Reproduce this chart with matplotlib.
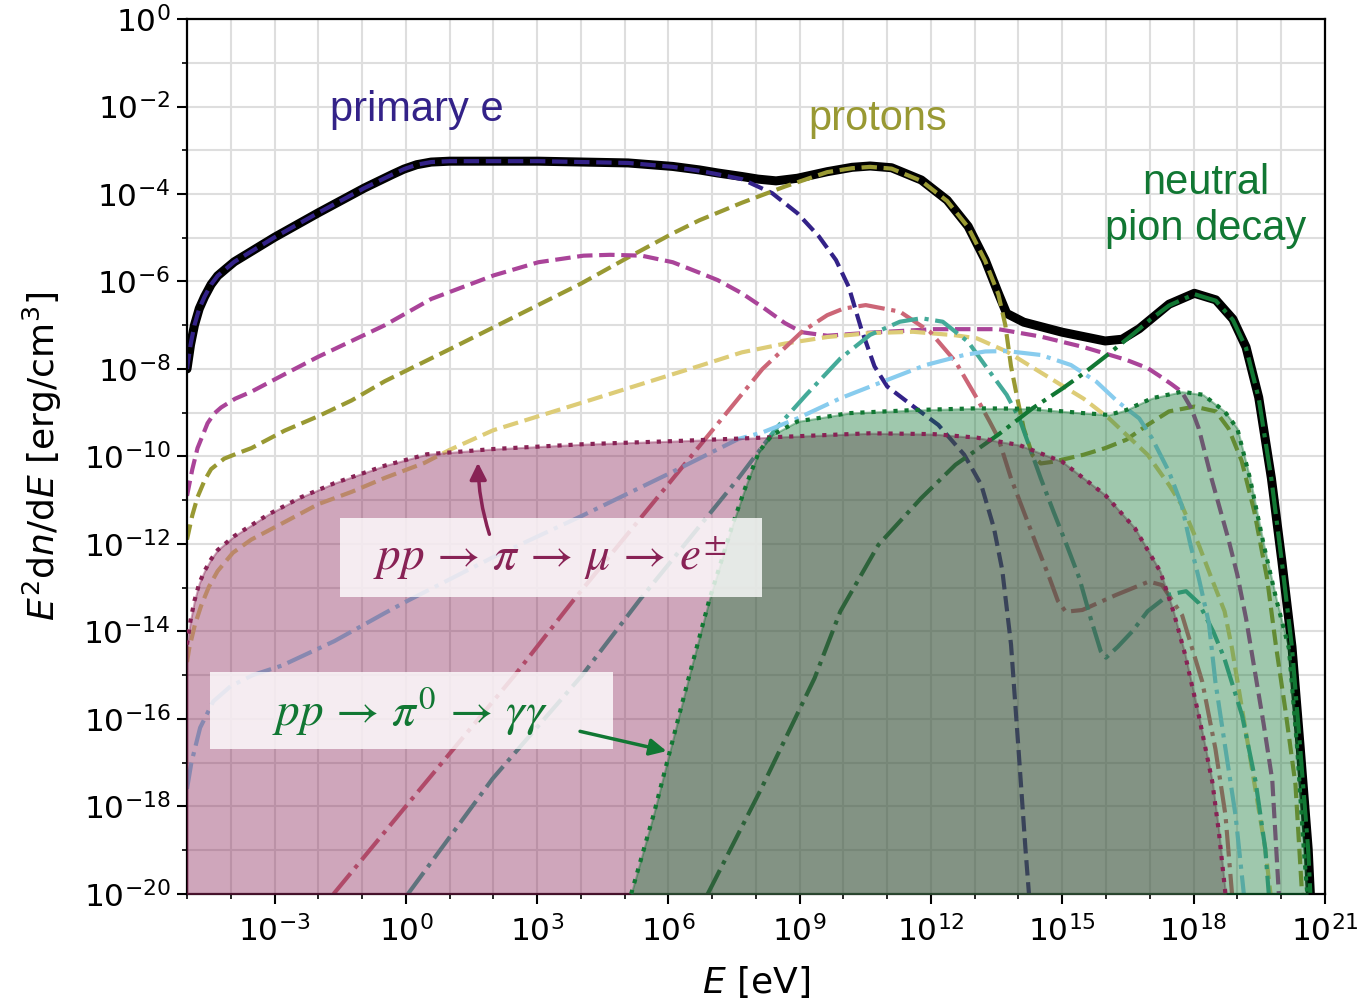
import numpy as np
import matplotlib
matplotlib.use("Agg")
import matplotlib.pyplot as plt
from matplotlib.patches import FancyArrowPatch, Rectangle

# Paul Tol "muted" palette
C_PRIM = "#332288"
C_PROT = "#999933"
C_MAG = "#AA4499"
C_SAND = "#DDCC77"
C_ROSE = "#CC6677"
C_TEAL = "#44AA99"
C_CYAN = "#88CCEE"
C_PI0 = "#117733"
C_WINE = "#882255"

# ---- spectra: log10(E / eV) and log10(E^2 dn/dE / erg cm^-3) ----
logE_total = [-5, -4.92, -4.83, -4.72, -4.6, -4.45, -4.3, -4.1, -3.92, -3.0, -2.0, -0.94, -0.3,
              -0.04, 0.25, 0.58, 1.0, 3.03, 5.08, 6.1, 6.71, 7.13, 7.68, 8.05, 8.46, 8.95, 9.63,
              10.2, 10.61, 11.1, 11.78, 12.37, 12.85, 13.24, 13.54, 13.73, 14.12, 15.0, 15.98,
              16.37, 16.76, 17.44, 18.02, 18.51, 18.9, 19.2, 19.49, 19.78, 20.02, 20.25, 20.44,
              20.62, 20.67]
logU_total = [-8.0, -7.45, -7.0, -6.62, -6.35, -6.07, -5.87, -5.7, -5.55, -4.99, -4.43, -3.86,
              -3.55, -3.43, -3.33, -3.27, -3.25, -3.25, -3.29, -3.37, -3.45, -3.52, -3.6, -3.66,
              -3.7, -3.64, -3.49, -3.39, -3.36, -3.4, -3.68, -4.14, -4.74, -5.51, -6.27, -6.73,
              -6.93, -7.16, -7.36, -7.32, -7.08, -6.52, -6.27, -6.42, -6.86, -7.5, -8.65, -10.5,
              -12.4, -14.35, -16.68, -18.97, -20]

logE_prim = [-5, -4.92, -4.83, -4.72, -4.6, -4.45, -4.3, -4.1, -3.92, -3.0, -2.0, -0.94, -0.3,
             -0.04, 0.25, 0.58, 1.0, 3.03, 5.08, 6.1, 6.71, 7.13, 7.68, 8.37, 8.95, 9.44, 9.83,
             10.12, 10.41, 10.71, 11.0, 11.59, 12.17, 12.76, 13.15, 13.44, 13.63, 13.83, 14.0,
             14.16, 14.24]
logU_prim = [-8.0, -7.45, -7.0, -6.62, -6.35, -6.07, -5.87, -5.7, -5.55, -4.99, -4.43, -3.86,
             -3.55, -3.43, -3.33, -3.27, -3.25, -3.25, -3.29, -3.38, -3.47, -3.55, -3.66, -3.98,
             -4.44, -4.97, -5.51, -6.12, -7.09, -7.94, -8.4, -8.85, -9.28, -9.96, -10.65,
             -11.64, -12.6, -14.3, -16.68, -18.97, -20]

logE_prot = [-5, -4.88, -4.76, -4.6, -4.45, -4.15, -3.85, -3.53, -2.77, -2.0, -1.24, -0.48,
             1.0, 2.5, 4.0, 5.08, 6.1, 6.71, 7.68, 8.66, 9.63, 10.2, 10.61, 11.1, 11.78, 12.37,
             12.85, 13.24, 13.54, 13.7, 13.83, 13.98, 14.12, 14.32, 14.51, 14.8, 15.49, 15.98,
             16.46, 16.95, 17.44, 18.02, 18.51, 18.8, 19.1, 19.39, 19.68, 19.88, 20.1, 20.33,
             20.48]
logU_prot = [-11.9, -11.35, -10.93, -10.55, -10.29, -10.05, -9.93, -9.81, -9.41, -9.08, -8.72,
             -8.28, -7.55, -6.8, -6.05, -5.45, -4.9, -4.6, -4.2, -3.83, -3.5, -3.41, -3.38,
             -3.42, -3.7, -4.16, -4.76, -5.53, -6.29, -7.0, -7.94, -8.7, -9.36, -9.97, -10.16,
             -10.12, -9.96, -9.81, -9.62, -9.28, -8.97, -8.86, -8.97, -9.36, -10.1, -11.26,
             -12.78, -14.3, -15.8, -17.5, -20]

logE_mag = [-5, -4.88, -4.76, -4.53, -4.38, -4.22, -3.9, -3.53, -2.77, -2.0, -1.24, -0.48, 0.58,
            2.01, 3.03, 4.06, 4.67, 5.39, 6.1, 6.71, 7.13, 7.68, 8.2, 8.66, 9.05, 9.63, 10.61,
            12.07, 13.54, 14.51, 15.49, 16.46, 16.95, 17.24, 17.5, 17.73, 17.95, 18.12, 18.41,
            18.8, 19.0, 19.2, 19.4, 19.6, 19.8, 19.95]
logU_mag = [-10.9, -10.3, -9.81, -9.24, -9.02, -8.88, -8.68, -8.52, -8.12, -7.72, -7.36, -7.0,
            -6.4, -5.86, -5.56, -5.41, -5.39, -5.41, -5.56, -5.8, -5.97, -6.27, -6.62, -6.95,
            -7.16, -7.24, -7.17, -7.09, -7.09, -7.26, -7.5, -7.79, -7.98, -8.17, -8.35, -8.52,
            -8.9, -9.36, -10.5, -11.9, -12.7, -13.7, -14.9, -16.1, -17.4, -20]

logE_sand = [-5, -4.95, -4.82, -4.68, -4.5, -4.3, -3.95, -3.53, -2.77, -2.0, -1.24, -0.48, 0.42,
             1.0, 2.0, 4.06, 6.1, 6.71, 7.68, 8.66, 9.63, 10.61, 11.59, 12.56, 13.05, 13.73,
             14.51, 15.49, 16.07, 16.95, 17.44, 17.73, 18.12, 18.41, 18.71, 18.88, 19.26, 19.64,
             19.76]
logU_sand = [-14.7, -14.39, -13.85, -13.42, -12.98, -12.62, -12.2, -11.9, -11.5, -11.09, -10.81,
             -10.49, -10.15, -9.85, -9.4, -8.76, -8.12, -7.93, -7.62, -7.42, -7.27, -7.18,
             -7.15, -7.23, -7.3, -7.6, -8.08, -8.68, -9.13, -9.96, -10.65, -11.11, -12.02,
             -12.78, -13.54, -14.39, -16.68, -18.97, -20]

logE_rose = [-1.65, 0.14, 2.49, 3.82, 6.1, 8.15, 9.05, 9.63, 10.0, 10.51, 11.29, 11.98, 12.56,
             13.05, 13.34, 13.54, 13.83, 14.12, 14.41, 14.71, 14.9, 15.08, 15.46, 16.22, 16.98,
             17.28, 17.74, 18.2, 18.5, 18.73, 18.88]
logU_rose = [-20, -17.83, -15.0, -13.3, -10.51, -8.0, -7.15, -6.77, -6.62, -6.54, -6.69, -7.15,
             -7.83, -8.67, -9.2, -9.58, -10.5, -11.26, -12.02, -12.78, -13.3, -13.55, -13.51,
             -13.17, -12.86, -12.94, -13.63, -15.15, -16.68, -18.2, -20]

logE_teal = [0.05, 1.98, 4.03, 5.36, 7.6, 8.46, 9.15, 9.93, 10.61, 11.29, 11.78, 12.27, 12.85,
             13.34, 13.73, 14.02, 14.51, 14.8, 15.1, 15.39, 15.65, 15.88, 16.0, 16.27, 16.6,
             16.95, 17.44, 17.83, 18.12, 18.45, 18.7, 19.11, 19.42, 19.64, 19.72]
logU_teal = [-20, -17.37, -15.0, -13.26, -10.5, -9.36, -8.59, -7.76, -7.22, -6.92, -6.84,
             -6.92, -7.38, -8.06, -8.59, -9.13, -10.5, -11.26, -12.02, -12.78, -13.7, -14.45,
             -14.6, -14.35, -14.0, -13.54, -13.16, -13.08, -13.35, -14.0, -14.6, -15.92, -17.44,
             -18.97, -20]

logE_cyan = [-5, -4.9, -4.7, -4.4, -4.0, -3.5, -2.83, -1.63, -0.48, 0.04, 2.0, 4.04, 6.08, 7.6,
             8.15, 8.95, 9.93, 10.9, 11.88, 12.76, 13.24, 13.73, 14.51, 15.2, 15.78, 16.27,
             16.76, 17.05, 17.44, 17.73, 17.93, 18.12, 18.35, 18.5, 18.73, 18.96, 19.15]
logU_cyan = [-17.6, -17.0, -16.2, -15.6, -15.25, -15.0, -14.78, -14.22, -13.58, -13.3, -12.3,
             -11.35, -10.36, -9.6, -9.45, -9.13, -8.67, -8.29, -7.91, -7.68, -7.6, -7.59, -7.68,
             -7.91, -8.29, -8.75, -9.13, -9.58, -10.35, -11.11, -12.02, -12.78, -13.8, -15.15,
             -16.68, -18.2, -20]

logE_pi0 = [6.9, 8.12, 9.34, 9.93, 10.8, 11.78, 12.56, 13.54, 14.32, 15.0, 15.49, 15.98, 16.66,
            17.0, 17.44, 18.02, 18.51, 18.9, 19.2, 19.49, 19.78, 20.02, 20.25, 20.44, 20.62,
            20.67]
logU_pi0 = [-20, -17.6, -15.07, -13.54, -12.02, -10.95, -10.19, -9.5, -8.9, -8.45, -8.1, -7.72,
            -7.17, -6.88, -6.55, -6.29, -6.44, -6.88, -7.52, -8.67, -10.52, -12.42, -14.37,
            -16.7, -18.99, -20]

# secondaries from pp collisions (shaded)
logE_epm = [-5, -4.92, -4.83, -4.72, -4.6, -4.45, -4.3, -3.92, -3.15, -2.39, -1.63, -0.48, 0.48,
            2.0, 4.06, 6.1, 8.15, 10.61, 12.07, 13.05, 14.02, 15.0, 15.98, 16.66, 17.24, 17.54,
            17.8, 18.12, 18.43, 18.58, 18.73]
logU_epm = [-14.3, -13.75, -13.3, -12.9, -12.62, -12.35, -12.14, -11.82, -11.33, -10.93, -10.61,
            -10.21, -9.95, -9.83, -9.72, -9.65, -9.57, -9.47, -9.49, -9.57, -9.74, -10.12,
            -10.88, -11.64, -12.63, -13.54, -14.5, -15.92, -17.44, -18.59, -20]

logE_gam = [5.15, 5.66, 6.07, 6.48, 6.94, 7.49, 7.78, 8.07, 8.37, 8.95, 10.12, 11.59, 13.05,
            14.32, 15.49, 16.07, 16.46, 17.05, 17.73, 18.22, 18.71, 19.0, 19.29, 19.6, 19.9,
            20.18, 20.37, 20.52, 20.6]
logU_gam = [-20, -18.2, -16.6, -15.0, -13.26, -11.49, -10.65, -9.89, -9.51, -9.2, -9.01, -8.94,
            -8.9, -8.91, -9.01, -9.05, -8.94, -8.67, -8.52, -8.59, -8.97, -9.36, -10.5, -12.0,
            -13.3, -14.39, -16.68, -18.97, -20]

x_major_exp = list(range(-3, 22, 3))
y_major_exp = list(range(-20, 1, 2))
Y_FLOOR = 1e-20


def p10(a):
    return 10.0 ** np.asarray(a, dtype=float)


fig = plt.figure(figsize=(13.70, 10.01), dpi=100)
ax = fig.add_axes([0.1365, 0.107, 0.8305, 0.874])
ax.set_xscale("log")
ax.set_yscale("log")

LW = 3.0
# total spectrum
ax.plot(p10(logE_total), p10(logU_total), color="black", lw=6.5, solid_capstyle="round",
        solid_joinstyle="round", zorder=2)

# components
line_specs = [
    (logE_prim, logU_prim, C_PRIM, "--"),
    (logE_prot, logU_prot, C_PROT, "--"),
    (logE_mag, logU_mag, C_MAG, "--"),
    (logE_sand, logU_sand, C_SAND, "--"),
    (logE_rose, logU_rose, C_ROSE, "-."),
    (logE_teal, logU_teal, C_TEAL, "-."),
    (logE_cyan, logU_cyan, C_CYAN, "-."),
    (logE_pi0, logU_pi0, C_PI0, "-."),
]
for le, lu, col, ls in line_specs:
    ax.plot(p10(le), p10(lu), color=col, ls=ls, lw=LW, zorder=2.5)

# shaded pp secondaries
ax.fill_between(p10(logE_epm), p10(logU_epm), Y_FLOOR, color=C_WINE, alpha=0.4, lw=1.5,
                zorder=3)
ax.fill_between(p10(logE_gam), p10(logU_gam), Y_FLOOR, color=C_PI0, alpha=0.4, lw=1.5,
                zorder=3.1)
ax.plot(p10(logE_epm), p10(logU_epm), color=C_WINE, ls=":", lw=LW, zorder=3.2)
ax.plot(p10(logE_gam), p10(logU_gam), color=C_PI0, ls=":", lw=LW, zorder=3.2)

ax.set_xlim(1e-5, 1e21)
ax.set_ylim(1e-20, 1e0)

ax.set_xticks(p10(x_major_exp))
ax.set_xticks(p10(range(-5, 22)), minor=True)
ax.set_yticks(p10(y_major_exp))
ax.set_yticks(p10(range(-20, 1)), minor=True)
ax.xaxis.set_minor_formatter(matplotlib.ticker.NullFormatter())
ax.yaxis.set_minor_formatter(matplotlib.ticker.NullFormatter())
ax.set_xticklabels([f"$10^{{{k}}}$" for k in x_major_exp])
ax.set_yticklabels([f"$10^{{{k}}}$" for k in y_major_exp])

ax.tick_params(which="major", direction="out", length=7, width=1.5, labelsize=22.5)
ax.tick_params(axis="x", which="major", pad=8)
ax.tick_params(axis="y", which="major", pad=5)
ax.tick_params(which="minor", direction="out", length=3.5, width=1.2)
for sp in ax.spines.values():
    sp.set_linewidth(1.6)
ax.grid(which="both", color="#dedede", lw=1.5, zorder=0)
ax.set_axisbelow(True)

ax.set_xlabel("$E$ [eV]", fontsize=26, labelpad=12)
ax.set_ylabel("$E^2$d$n$/d$E$ [erg/cm$^3$]", fontsize=26, labelpad=14)

# component labels
lab_font = dict(family=["Liberation Sans", "DejaVu Sans"], fontsize=30)
ax.text(10 ** -1.73, 10 ** -2.33, "primary e", color=C_PRIM, ha="left", va="baseline",
        **lab_font)
ax.text(10 ** 9.2, 10 ** -2.54, "protons", color=C_PROT, ha="left", va="baseline", **lab_font)
ax.text(10 ** 18.28, 10 ** -4.27, "neutral\npion decay", color=C_PI0, ha="center",
        va="center", multialignment="center", **lab_font)

# reaction-chain labels on translucent panels
ax.add_patch(Rectangle((0.1344, 0.3394), 0.3709, 0.0903, transform=ax.transAxes,
                       fc="white", ec="none", alpha=0.8, zorder=5))
ax.add_patch(Rectangle((0.0202, 0.1657), 0.3541, 0.0880, transform=ax.transAxes,
                       fc="white", ec="none", alpha=0.8, zorder=5))
ax.text(0.319, 0.3835,
        r"$pp\,\rightarrow\,\pi\,\rightarrow\,\mu\,\rightarrow\,e^{\pm}$",
        transform=ax.transAxes, color=C_WINE, fontsize=34, ha="center", va="center",
        math_fontfamily="stix", zorder=6)
ax.text(0.196, 0.2085, r"$pp\,\rightarrow\,\pi^0\,\rightarrow\,\gamma\gamma$",
        transform=ax.transAxes, color=C_PI0, fontsize=34, ha="center", va="center",
        math_fontfamily="stix", zorder=6)

ax.add_patch(FancyArrowPatch((10 ** 1.93, 10 ** -11.84), (10 ** 1.65, 10 ** -10.08),
                             arrowstyle="-|>", mutation_scale=25, color=C_WINE, lw=2.5,
                             connectionstyle="arc3,rad=-0.08", zorder=7))
ax.add_patch(FancyArrowPatch((10 ** 3.92, 10 ** -16.27), (10 ** 6.02, 10 ** -16.75),
                             arrowstyle="-|>", mutation_scale=25, color=C_PI0, lw=2.5,
                             zorder=7))

fig.savefig("out.png", dpi=100)
